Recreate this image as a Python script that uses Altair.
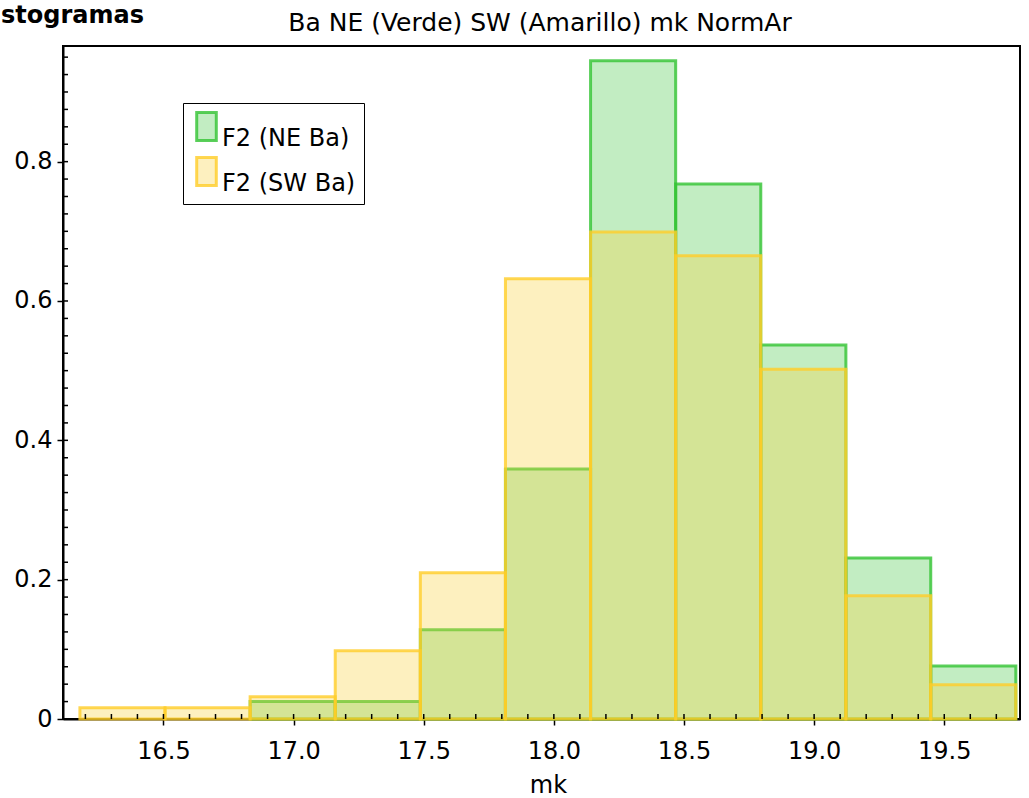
import altair as alt
import pandas as pd

# Histogram bin boundaries (mk) and normalised heights for each zone
bin_edges = [16.179, 16.506, 16.833, 17.160, 17.487, 17.814, 18.141,
             18.468, 18.795, 19.122, 19.448, 19.775]
ne_density = [0.0, 0.0, 0.025, 0.025, 0.128, 0.359, 0.945, 0.768, 0.537, 0.231, 0.076]
sw_density = [0.016, 0.016, 0.032, 0.098, 0.210, 0.632, 0.699, 0.665, 0.502, 0.177, 0.049]
series_names = ["F2 (NE Ba)", "F2 (SW Ba)"]

x_ticks_major = [16.5, 17.0, 17.5, 18.0, 18.5, 19.0, 19.5]
y_ticks_major = [0, 0.2, 0.4, 0.6, 0.8]
x_ticks_minor = [round(16.2 + 0.1 * i, 1) for i in range(36)]
y_ticks_minor = [round(0.025 * i, 3) for i in range(39)]

fill_colors = ["rgba(76,201,76,0.34)", "rgba(250,210,60,0.33)"]
stroke_colors = ["rgba(50,195,50,0.8)", "rgba(255,205,40,0.8)"]

title_text = "Ba NE (Verde) SW (Amarillo) mk NormAr"
header_text = "stogramas"

FONT = "DejaVu Sans"
W, H = 957, 673

rows = []
for name, vals in zip(series_names, [ne_density, sw_density]):
    for i, v in enumerate(vals):
        if v > 0:
            rows.append({"serie": name, "x0": bin_edges[i], "x1": bin_edges[i + 1],
                         "dens": v, "base": 0.0})
bars = pd.DataFrame(rows)

xs = alt.Scale(domain=[16.114, 19.791], nice=False, zero=False)
ys = alt.Scale(domain=[0, 0.966], nice=False)

x_axis = alt.Axis(values=x_ticks_major, format=".1f", title="mk",
                  titleX=485, titlePadding=10, labelPadding=14, tickSize=6)
y_axis = alt.Axis(values=y_ticks_major, title=None, tickSize=6, labelPadding=5,
                  labelExpr="datum.value == 0 ? '0' : format(datum.value, '.1f')")

leg = alt.Legend(
    title=None, orient="none", legendX=120, legendY=57,
    symbolType="M-0.7,-1H0.7V1H-0.7Z", symbolSize=784, symbolStrokeWidth=3,
    labelFont=FONT, labelFontSize=24, labelColor="black", labelOffset=0,
    labelBaseline="top",
    strokeColor="black", fillColor="white", padding=8, rowPadding=0,
)

hist = alt.Chart(bars).mark_rect(strokeWidth=3).encode(
    x=alt.X("x0:Q", scale=xs, axis=x_axis),
    x2="x1:Q",
    y=alt.Y("dens:Q", scale=ys, axis=y_axis),
    y2="base:Q",
    fill=alt.Fill("serie:N", scale=alt.Scale(domain=series_names, range=fill_colors),
                  legend=leg),
    stroke=alt.Stroke("serie:N", scale=alt.Scale(domain=series_names, range=stroke_colors),
                      legend=leg),
)

# inward-pointing tick marks along the bottom and left frame edges
xtick_in = alt.Chart(pd.DataFrame({"t": x_ticks_minor})).mark_rule(
    color="black", strokeWidth=1.5).encode(
    x=alt.X("t:Q", scale=xs, axis=x_axis), y=alt.value(H), y2=alt.value(H - 5))
ytick_in = alt.Chart(pd.DataFrame({"t": y_ticks_minor})).mark_rule(
    color="black", strokeWidth=1.5).encode(
    y=alt.Y("t:Q", scale=ys, axis=y_axis), x=alt.value(0), x2=alt.value(5))

# chart title and the section heading above it
title_mark = alt.Chart(pd.DataFrame({"t": [title_text]})).mark_text(
    font=FONT, fontSize=25, align="center", baseline="alphabetic", color="black").encode(
    text="t:N", x=alt.value(477), y=alt.value(-15))
header = alt.Chart(pd.DataFrame({"t": [header_text]})).mark_text(
    font=FONT, fontWeight="bold", fontSize=24, align="left",
    baseline="alphabetic", color="black").encode(
    text="t:N", x=alt.value(-62), y=alt.value(-23))

chart = alt.layer(hist, xtick_in, ytick_in, title_mark, header).properties(
    width=W, height=H,
    autosize=alt.AutoSizeParams(type="none"),
    padding={"left": 63, "top": 46, "right": 9, "bottom": 79},
).configure_view(stroke="black", strokeWidth=2).configure_axis(
    domainColor="black", domainWidth=2, tickColor="black", tickWidth=1.5,
    labelFont=FONT, labelFontSize=24, labelColor="black",
    titleFont=FONT, titleFontSize=24, titleColor="black", titleFontWeight="normal",
    grid=False,
)

chart.save("out.html", embed_options={"renderer": "svg", "actions": False})
